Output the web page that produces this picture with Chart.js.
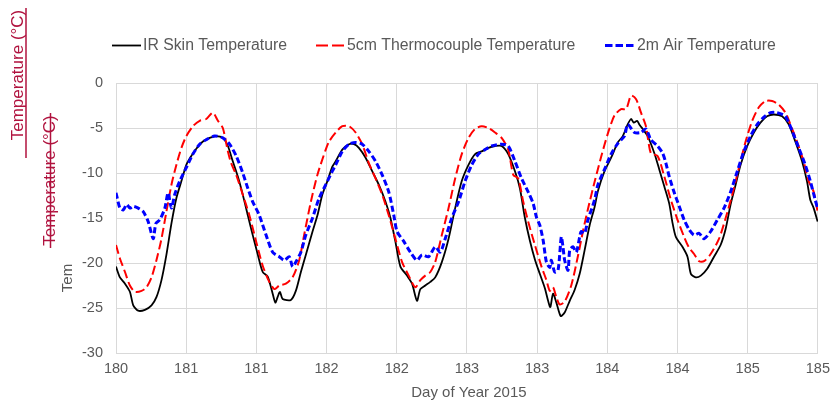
<!DOCTYPE html>
<html><head><meta charset="utf-8">
<script src="https://cdn.jsdelivr.net/npm/chart.js@4"></script>
<style>html,body{margin:0;padding:0;background:#fff}#wrap{width:837px;height:405px;position:relative}</style>
</head><body><div id="wrap"><canvas id="c"></canvas></div>
<script>
const seriesNames = ['IR Skin Temperature', '5cm Thermocouple Temperature', '2m Air Temperature'];
const xTickValues = [180, 180.5, 181, 181.5, 182, 182.5, 183, 183.5, 184, 184.5, 185];
const xTickLabels = ['180', '181', '181', '182', '182', '183', '183', '184', '184', '185', '185'];
const yTickValues = [-30, -25, -20, -15, -10, -5, 0];
const xTitle = 'Day of Year 2015';
const yTitle = 'Tem';
const yStrayLabel = 'Temperature (°C)';

const irDays = [180.000,180.028,180.064,180.099,180.123,180.158,180.206,180.253,180.288,180.324,180.359,180.395,180.430,180.466,180.501,180.537,180.572,180.619,180.667,180.714,180.761,180.797,180.832,180.868,180.903,180.939,180.974,181.009,181.045,181.080,181.111,181.135,181.151,181.168,181.187,181.246,181.281,181.317,181.352,181.400,181.435,181.470,181.506,181.541,181.565,181.612,181.660,181.695,181.730,181.778,181.825,181.872,181.920,181.955,181.990,182.026,182.073,182.109,182.144,182.168,182.203,182.239,182.274,182.321,182.369,182.416,182.463,182.511,182.558,182.605,182.653,182.700,182.747,182.794,182.842,182.877,182.913,182.948,182.984,183.019,183.055,183.078,183.094,183.113,183.137,183.168,183.196,183.232,183.267,183.303,183.338,183.374,183.409,183.433,183.480,183.527,183.575,183.610,183.645,183.669,183.688,183.712,183.728,183.787,183.835,183.870,183.906,183.941,183.965,183.988,184.035,184.071,184.095,184.130,184.166,184.213,184.260,184.307,184.343,184.378,184.414,184.449,184.497,184.544,184.591,184.638,184.686,184.745,184.792,184.839,184.887,184.922,184.946,184.970,184.998];
const irTemps = [-20.4,-21.6,-22.3,-23.2,-24.7,-25.3,-25.2,-24.7,-23.8,-21.9,-19.1,-15.6,-12.8,-10.9,-9.1,-8.1,-7.3,-6.5,-6.1,-5.9,-6.1,-7.0,-8.7,-10.4,-12.4,-14.7,-16.9,-19.0,-21.0,-21.5,-23.1,-24.4,-23.8,-23.2,-24.0,-24.1,-23.1,-21.0,-19.1,-16.5,-14.7,-12.4,-10.9,-9.3,-8.7,-7.4,-6.8,-6.8,-7.2,-8.3,-9.8,-11.3,-13.2,-15.0,-17.6,-20.4,-21.4,-22.3,-24.2,-22.9,-22.5,-22.1,-21.6,-19.9,-17.3,-13.9,-10.9,-9.1,-7.9,-7.6,-7.2,-7.0,-7.0,-7.9,-9.8,-11.7,-15.0,-17.5,-19.6,-21.2,-22.8,-24.2,-24.9,-23.4,-24.4,-25.9,-25.5,-24.2,-23.0,-21.2,-18.6,-15.8,-13.8,-12.0,-9.8,-8.3,-6.6,-5.9,-4.6,-4.0,-4.4,-4.2,-4.6,-5.9,-7.8,-9.6,-11.5,-13.4,-15.6,-17.1,-18.2,-19.3,-21.2,-21.6,-21.4,-20.6,-19.3,-18.0,-16.2,-13.5,-11.3,-9.1,-7.0,-5.5,-4.4,-3.7,-3.5,-3.7,-4.6,-6.5,-8.7,-10.9,-13.0,-13.9,-15.4];

const tcDays = [180.000,180.028,180.064,180.099,180.135,180.182,180.217,180.253,180.288,180.324,180.359,180.395,180.430,180.466,180.501,180.548,180.596,180.643,180.690,180.726,180.761,180.797,180.820,180.856,180.903,180.950,180.998,181.045,181.092,181.128,181.164,181.210,181.258,181.305,181.340,181.388,181.435,181.494,181.518,181.565,181.612,181.660,181.707,181.754,181.801,181.849,181.896,181.943,181.990,182.038,182.085,182.132,182.168,182.203,182.239,182.274,182.321,182.369,182.416,182.463,182.511,182.558,182.605,182.653,182.700,182.747,182.794,182.830,182.865,182.901,182.936,182.984,183.031,183.066,183.090,183.113,183.137,183.160,183.196,183.243,183.291,183.326,183.362,183.409,183.456,183.504,183.551,183.598,183.634,183.669,183.705,183.740,183.775,183.810,183.858,183.906,183.953,184.000,184.047,184.082,184.118,184.154,184.189,184.236,184.296,184.343,184.390,184.438,184.485,184.532,184.579,184.627,184.674,184.721,184.769,184.804,184.851,184.898,184.934,184.970,184.998];
const tcTemps = [-18.0,-19.5,-21.0,-22.5,-23.2,-23.1,-22.7,-21.6,-19.7,-17.3,-14.3,-11.3,-9.1,-7.2,-5.9,-4.8,-4.2,-4.0,-3.3,-4.2,-5.0,-7.6,-8.9,-10.2,-12.4,-14.7,-17.6,-20.3,-22.1,-22.9,-22.5,-22.3,-21.6,-19.7,-16.9,-13.2,-10.2,-7.4,-6.5,-5.5,-4.8,-4.8,-5.5,-6.8,-8.9,-10.6,-12.4,-14.7,-17.3,-19.9,-21.4,-22.7,-21.9,-21.4,-21.0,-19.9,-16.9,-13.9,-10.6,-7.9,-6.1,-5.1,-4.8,-5.0,-5.5,-6.1,-7.4,-10.2,-10.6,-13.2,-15.4,-18.0,-20.4,-21.9,-23.1,-22.7,-23.8,-24.6,-24.3,-22.5,-19.2,-16.5,-14.0,-11.0,-8.2,-5.6,-3.6,-2.9,-2.9,-1.4,-1.8,-3.3,-4.8,-7.8,-8.1,-10.4,-13.0,-15.2,-17.1,-18.3,-19.0,-19.8,-19.8,-19.0,-17.3,-15.0,-12.4,-9.4,-6.5,-4.2,-2.7,-2.0,-2.0,-2.4,-3.3,-4.6,-6.5,-8.7,-10.9,-12.1,-14.3];

const airDays = [180.000,180.028,180.052,180.076,180.099,180.123,180.158,180.194,180.229,180.265,180.284,180.312,180.348,180.371,180.395,180.418,180.454,180.501,180.548,180.596,180.643,180.702,180.761,180.809,180.856,180.903,180.939,180.974,181.021,181.069,181.116,181.163,181.199,181.234,181.258,181.281,181.317,181.352,181.400,181.447,181.494,181.541,181.565,181.612,181.660,181.707,181.754,181.801,181.849,181.896,181.943,181.979,182.002,182.050,182.097,182.144,182.180,182.227,182.274,182.310,182.345,182.392,182.440,182.487,182.534,182.582,182.629,182.676,182.747,182.794,182.842,182.889,182.936,182.972,182.995,183.019,183.043,183.066,183.090,183.101,183.125,183.149,183.172,183.184,183.196,183.220,183.232,183.255,183.279,183.303,183.314,183.338,183.362,183.409,183.433,183.480,183.527,183.575,183.622,183.645,183.693,183.740,183.775,183.810,183.858,183.894,183.917,183.941,183.977,184.012,184.047,184.083,184.118,184.154,184.189,184.236,184.284,184.331,184.378,184.426,184.473,184.520,184.568,184.615,184.662,184.709,184.768,184.816,184.863,184.910,184.946,184.981,184.998];
const airTemps = [-12.2,-13.9,-14.1,-13.5,-13.9,-13.7,-13.9,-14.3,-15.4,-17.3,-15.6,-15.2,-13.9,-12.2,-13.9,-12.4,-10.9,-9.4,-7.9,-6.8,-6.3,-5.9,-6.1,-6.8,-8.1,-10.0,-11.7,-13.2,-14.7,-16.9,-18.8,-19.3,-19.7,-19.3,-20.4,-19.9,-18.8,-16.9,-15.0,-12.8,-11.3,-9.8,-9.1,-7.6,-6.8,-6.6,-6.8,-7.6,-8.7,-10.2,-12.1,-14.7,-16.5,-17.6,-18.8,-19.7,-19.1,-19.3,-18.2,-18.8,-17.3,-15.0,-13.2,-10.9,-9.1,-7.9,-7.4,-7.0,-6.8,-7.0,-8.7,-10.6,-12.1,-13.4,-14.9,-15.8,-17.5,-19.9,-20.5,-19.7,-21.0,-20.8,-17.1,-18.2,-19.7,-20.8,-18.6,-18.2,-18.8,-17.1,-16.5,-16.7,-15.2,-13.0,-11.3,-9.6,-7.9,-6.7,-5.9,-4.6,-5.5,-5.5,-5.1,-6.3,-7.0,-7.8,-8.9,-10.4,-12.2,-13.7,-15.2,-16.3,-16.9,-16.7,-17.3,-16.5,-15.2,-13.9,-12.1,-9.8,-7.6,-5.9,-4.6,-3.8,-3.3,-3.3,-3.7,-5.3,-7.2,-9.1,-10.9,-13.0,-13.9];

const FONT = '"Liberation Sans", Arial, Helvetica, sans-serif';
Chart.defaults.font.family = FONT;
const GRAY = '#595959';
const RED_LABEL = '#b0123e';

function pts(days, temps) { return days.map((d, i) => ({ x: d, y: temps[i] })); }

const overlay = {
  id: 'overlay',
  afterDraw(chart) {
    const ctx = chart.ctx;
    const ca = chart.chartArea;
    ctx.save();
    // legend
    const slots = [{ x0: 112, x1: 141, tx: 143 }, { x0: 316, x1: 345, tx: 347 }, { x0: 605, x1: 635, tx: 637 }];
    const ly = 45.5;
    chart.data.datasets.forEach((ds, i) => {
      const s = slots[i];
      ctx.beginPath();
      ctx.setLineDash(ds.legendDash);
      ctx.strokeStyle = ds.borderColor;
      ctx.lineWidth = ds.borderWidth;
      ctx.moveTo(s.x0, ly); ctx.lineTo(s.x1, ly); ctx.stroke();
      ctx.setLineDash([]);
      ctx.fillStyle = GRAY;
      ctx.font = '15.8px ' + FONT;
      ctx.textAlign = 'left'; ctx.textBaseline = 'middle';
      ctx.fillText(ds.label, s.tx, ly);
    });
    // x title
    ctx.fillStyle = GRAY;
    ctx.font = '15px ' + FONT;
    ctx.textAlign = 'center'; ctx.textBaseline = 'middle';
    ctx.fillText(xTitle, (ca.left + ca.right) / 2 + 2, 393);
    // y title (truncated)
    ctx.save();
    ctx.translate(67.5, 278); ctx.rotate(-Math.PI / 2);
    ctx.fillText(yTitle, 0, 0);
    ctx.restore();
    // stray red labels
    ctx.fillStyle = RED_LABEL; ctx.strokeStyle = RED_LABEL;
    ctx.font = '17px ' + FONT;
    ctx.textBaseline = 'alphabetic';
    ctx.save();
    ctx.translate(22.5, 75); ctx.rotate(-Math.PI / 2);
    ctx.fillText(yStrayLabel, 0, 0);
    ctx.restore();
    ctx.lineWidth = 1.5;
    ctx.beginPath(); ctx.moveTo(26, 8); ctx.lineTo(26, 158); ctx.stroke();
    ctx.save();
    ctx.translate(54.5, 180.5); ctx.rotate(-Math.PI / 2);
    ctx.fillText(yStrayLabel, 0, 0);
    ctx.restore();
    ctx.beginPath(); ctx.moveTo(50.5, 113); ctx.lineTo(50.5, 248); ctx.stroke();
    ctx.restore();
  }
};

new Chart(document.getElementById('c'), {
  type: 'line',
  data: {
    datasets: [
      { label: seriesNames[0], data: pts(irDays, irTemps), borderColor: '#000000', borderWidth: 1.8, pointRadius: 0, tension: 0.25, order: 3, legendDash: [] },
      { label: seriesNames[1], data: pts(tcDays, tcTemps), borderColor: '#ff0000', borderWidth: 2, borderDash: [9, 4], pointRadius: 0, tension: 0.25, order: 2, legendDash: [12, 4] },
      { label: seriesNames[2], data: pts(airDays, airTemps), borderColor: '#0000ff', borderWidth: 3, borderDash: [6, 3], pointRadius: 0, tension: 0.25, order: 1, legendDash: [7.5, 3] }
    ]
  },
  options: {
    responsive: true, maintainAspectRatio: false, animation: false,
    layout: { padding: { left: 0, right: 16, top: 83, bottom: 0 } },
    plugins: { legend: { display: false }, tooltip: { enabled: false } },
    scales: {
      x: {
        type: 'linear', min: 180, max: 185,
        afterBuildTicks(s) { s.ticks = xTickValues.map(v => ({ value: v })); },
        afterFit(s) { s.height = 52; },
        ticks: { autoSkip: false, maxRotation: 0, color: GRAY, font: { size: 14.5 }, padding: 7,
          callback: (v, i) => xTickLabels[i] },
        grid: { color: '#d9d9d9', drawTicks: false },
        border: { color: '#d9d9d9' }
      },
      y: {
        min: -30, max: 0,
        afterBuildTicks(s) { s.ticks = yTickValues.map(v => ({ value: v })); },
        afterFit(s) { s.width = 116; },
        ticks: { color: GRAY, font: { size: 14.5 }, padding: 13 },
        grid: { color: '#d9d9d9', drawTicks: false },
        border: { color: '#d9d9d9' }
      }
    }
  },
  plugins: [overlay]
});
</script>
</body></html>
